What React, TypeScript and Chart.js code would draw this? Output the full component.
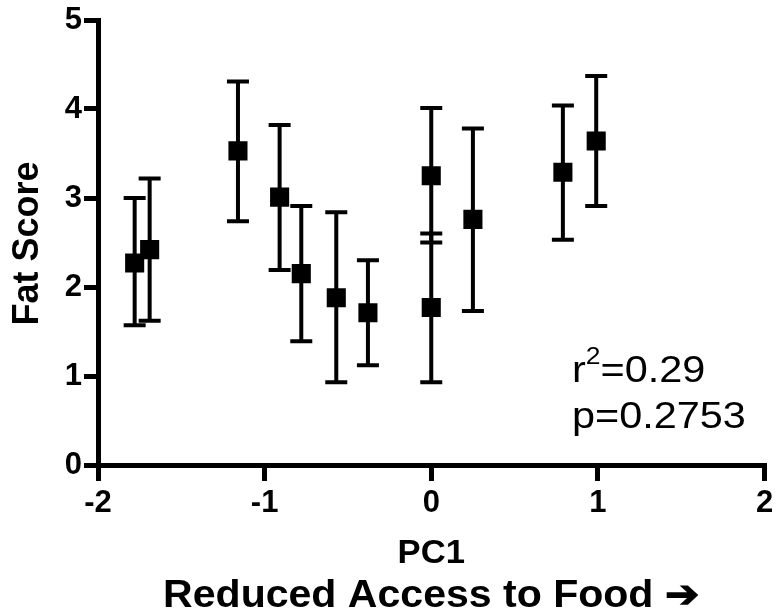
import React, { useEffect, useRef } from "react";
import { Chart, registerables } from "chart.js";

Chart.register(...registerables);

// PC1 score of each site
const pc1Values: number[] = [-1.78, -1.69, -1.16, -0.91, -0.78, -0.57, -0.38, 0.0, 0.0, 0.25, 0.79, 0.99];
// Mean fat score
const fatScores: number[] = [2.27, 2.42, 3.53, 3.01, 2.15, 1.88, 1.71, 3.25, 1.77, 2.76, 3.29, 3.64];
// Error bar ends
const errUpper: number[] = [3.0, 3.22, 4.31, 3.82, 2.91, 2.84, 2.3, 4.01, 2.6, 3.78, 4.04, 4.37];
const errLower: number[] = [1.57, 1.62, 2.74, 2.19, 1.39, 0.93, 1.12, 2.5, 0.93, 1.73, 2.53, 2.91];

const xTicks: number[] = [-2, -1, 0, 1, 2];
const yTicks: number[] = [0, 1, 2, 3, 4, 5];

const yTitle = "Fat Score";
const xTitleLines: string[] = ["PC1", "Reduced Access to Food \u2794"];
const statLines = { r2: "0.29", p: "0.2753" };

const FONT = "'Liberation Sans', Arial, Helvetica, sans-serif";

const errorBarPlugin = {
  id: "errorBars",
  beforeDatasetsDraw(chart: any) {
    const { ctx, scales } = chart;
    const xs = scales.x;
    const ys = scales.y;
    ctx.save();
    ctx.strokeStyle = "#000";
    ctx.lineWidth = 4;
    ctx.lineCap = "butt";
    for (let i = 0; i < pc1Values.length; i++) {
      const px = xs.getPixelForValue(pc1Values[i]);
      const pt = ys.getPixelForValue(errUpper[i]);
      const pb = ys.getPixelForValue(errLower[i]);
      ctx.beginPath();
      ctx.moveTo(px, pt - 2);
      ctx.lineTo(px, pb + 2);
      ctx.moveTo(px - 11, pt);
      ctx.lineTo(px + 11, pt);
      ctx.moveTo(px - 11, pb);
      ctx.lineTo(px + 11, pb);
      ctx.stroke();
    }
    ctx.restore();
  },
};

const textPlugin = {
  id: "texts",
  afterDraw(chart: any) {
    const { ctx, chartArea } = chart;
    const cx = (chartArea.left + chartArea.right) / 2;
    const cy = (chartArea.top + chartArea.bottom) / 2;
    ctx.save();
    ctx.fillStyle = "#000";
    // Y title
    ctx.save();
    ctx.translate(28, cy + 1);
    ctx.rotate(-Math.PI / 2);
    ctx.font = `bold 36px ${FONT}`;
    ctx.textAlign = "center";
    ctx.textBaseline = "middle";
    ctx.fillText(yTitle, 0, 0);
    ctx.restore();
    // X title line 1
    ctx.save();
    ctx.translate(cx, 554);
    ctx.scale(1.05, 1);
    ctx.font = `bold 33px ${FONT}`;
    ctx.textAlign = "center";
    ctx.textBaseline = "middle";
    ctx.fillText(xTitleLines[0], 0, 0);
    ctx.restore();
    // X title line 2
    ctx.save();
    ctx.translate(cx, 597);
    ctx.scale(1.08, 1);
    ctx.font = `bold 38px ${FONT}`;
    ctx.textAlign = "center";
    ctx.textBaseline = "middle";
    ctx.fillText(xTitleLines[1], 0, 0);
    ctx.restore();
    // Stats
    ctx.save();
    ctx.translate(572, 0);
    ctx.scale(1.15, 1);
    ctx.textAlign = "left";
    ctx.textBaseline = "alphabetic";
    ctx.font = `36px ${FONT}`;
    let x = 0;
    ctx.fillText("r", x, 382);
    x += ctx.measureText("r").width;
    ctx.font = `23px ${FONT}`;
    ctx.fillText("2", x, 364);
    x += ctx.measureText("2").width;
    ctx.font = `36px ${FONT}`;
    ctx.fillText("=" + statLines.r2, x, 382);
    ctx.fillText("p=" + statLines.p, 0, 428);
    ctx.restore();
    ctx.restore();
  },
};

export default function App() {
  const canvasRef = useRef<HTMLCanvasElement | null>(null);

  useEffect(() => {
    if (!canvasRef.current) return;
    const points = pc1Values.map((v, i) => ({ x: v, y: fatScores[i] }));
    const chart = new Chart(canvasRef.current, {
      type: "scatter",
      data: {
        datasets: [
          {
            data: points,
            backgroundColor: "#000",
            borderColor: "#000",
            pointStyle: "rect",
            pointRadius: 13.5,
            pointBorderWidth: 0,
            pointHoverRadius: 13.5,
          },
        ],
      },
      options: {
        responsive: false,
        animation: false,
        events: [],
        layout: { padding: { top: 20, right: 9, left: 0, bottom: 0 } },
        plugins: {
          legend: { display: false },
          tooltip: { enabled: false },
        },
        scales: {
          x: {
            type: "linear",
            min: -2,
            max: 2,
            afterBuildTicks: (scale: any) => {
              scale.ticks = xTicks.map((v) => ({ value: v }));
            },
            afterFit: (scale: any) => {
              scale.height = 151;
              scale.paddingLeft = 0;
              scale.paddingRight = 0;
            },
            ticks: {
              color: "#000",
              font: { family: FONT, size: 31, weight: "bold" },
              padding: 4,
              maxRotation: 0,
              autoSkip: false,
            },
            grid: {
              drawOnChartArea: false,
              color: "#000",
              lineWidth: 5,
              tickLength: 16,
              tickWidth: 5,
            },
            border: { color: "#000", width: 5 },
          },
          y: {
            type: "linear",
            min: 0,
            max: 5,
            afterBuildTicks: (scale: any) => {
              scale.ticks = yTicks.map((v) => ({ value: v }));
            },
            afterFit: (scale: any) => {
              scale.width = 98;
              scale.paddingTop = 0;
              scale.paddingBottom = 0;
            },
            ticks: {
              color: "#000",
              font: { family: FONT, size: 31, weight: "bold" },
              padding: 2,
              autoSkip: false,
            },
            grid: {
              drawOnChartArea: false,
              color: "#000",
              lineWidth: 5,
              tickLength: 14,
              tickWidth: 5,
            },
            border: { color: "#000", width: 5 },
          },
        },
      },
      plugins: [errorBarPlugin, textPlugin],
    } as any);
    return () => chart.destroy();
  }, []);

  return (
    <div style={{ position: "absolute", left: 0, top: 0, width: 778, height: 616, background: "#fff" }}>
      <canvas ref={canvasRef} width={778} height={616} style={{ display: "block" }} />
    </div>
  );
}
